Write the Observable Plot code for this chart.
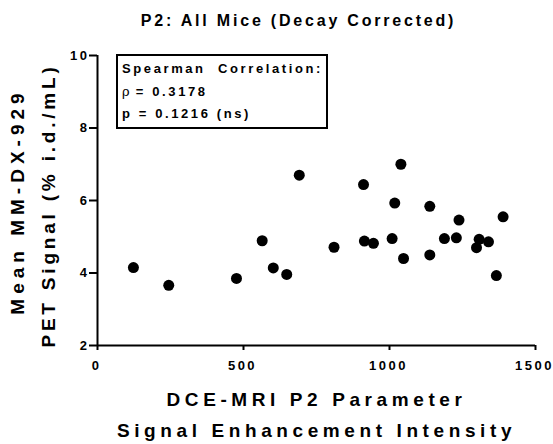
<!DOCTYPE html>
<html>
<head>
<meta charset="utf-8">
<script src="https://cdn.jsdelivr.net/npm/d3@7"></script>
<script src="https://cdn.jsdelivr.net/npm/@observablehq/plot@0.6"></script>
<style>
  html, body { margin: 0; padding: 0; background: white; }
  #wrap { position: relative; width: 553px; height: 444px; font-family: "Liberation Sans", Arial, sans-serif; }
  #wrap svg text { font-weight: bold; }
  #box { position: absolute; left: 116px; top: 54px; width: 208px; height: 71px; border: 2px solid black; background: white; font-weight: bold; font-size: 13px; letter-spacing: 2.6px; color: black; }
  #box div { position: absolute; left: 4px; white-space: pre; }
  .rho { font-weight: normal; font-family: "DejaVu Serif", serif; letter-spacing: 0; }
</style>
</head>
<body>
<div id="wrap"></div>
<script>
const xVals = [123, 244, 476, 564, 602, 648, 691, 810, 911, 914, 945, 1009, 1018, 1039, 1048, 1138, 1138, 1188, 1229, 1238, 1298, 1307, 1339, 1366, 1389];
const yVals = [4.15, 3.66, 3.85, 4.89, 4.14, 3.96, 6.70, 4.71, 6.44, 4.88, 4.82, 4.95, 5.93, 7.00, 4.40, 5.84, 4.50, 4.95, 4.97, 5.46, 4.70, 4.93, 4.86, 3.93, 5.55];
const xTicks = [0, 500, 1000, 1500];
const yTicks = [2, 4, 6, 8, 10];
const titleText = "P2: All Mice (Decay Corrected)";
const xLabel = ["DCE-MRI P2 Parameter", "Signal Enhancement Intensity"];
const yLabel = ["Mean MM-DX-929", "PET Signal (% i.d./mL)"];
const statLines = ["Spearman  Correlation:", "= 0.3178", "p = 0.1216 (ns)"];

const points = xVals.map((x, i) => ({x, y: yVals[i]}));
const font = "Liberation Sans, Arial, sans-serif";

const chart = Plot.plot({
  width: 553,
  height: 444,
  marginLeft: 97,
  marginRight: 18,
  marginTop: 55,
  marginBottom: 99,
  style: {fontFamily: font, fontWeight: "bold", letterSpacing: "2.5px", color: "black", background: "white"},
  x: {domain: [0, 1500], label: null},
  y: {domain: [2, 10], label: null},
  marks: [
    Plot.axisX({ticks: xTicks, tickSize: 5, tickPadding: 10, fontSize: 13, fontWeight: "bold", strokeWidth: 2, tickFormat: d => String(d), label: null}),
    Plot.axisY({ticks: yTicks, tickSize: 8, tickPadding: 0, fontSize: 13, fontWeight: "bold", strokeWidth: 2, tickFormat: d => String(d), label: null}),
    Plot.ruleY([2], {strokeWidth: 2}),
    Plot.ruleX([0], {strokeWidth: 2}),
    Plot.dot(points, {x: "x", y: "y", r: 5.5, fill: "black", stroke: "none"}),
    Plot.text([titleText], {text: d => d, frameAnchor: "top", dx: -18, dy: -30, lineAnchor: "bottom", fontSize: 16, fontWeight: "bold", className: "ttl"}),
    Plot.text([xLabel[0]], {text: d => d, frameAnchor: "bottom", dy: 60, lineAnchor: "bottom", fontSize: 19, fontWeight: "bold", className: "xl"}),
    Plot.text([xLabel[1]], {text: d => d, frameAnchor: "bottom", dy: 91, lineAnchor: "bottom", fontSize: 19, fontWeight: "bold", className: "xl"}),
    Plot.text([yLabel[0]], {text: d => d, frameAnchor: "left", textAnchor: "middle", lineAnchor: "middle", dx: -80, dy: 1, rotate: -90, fontSize: 19, fontWeight: "bold", className: "yl1"}),
    Plot.text([yLabel[1]], {text: d => d, frameAnchor: "left", textAnchor: "middle", lineAnchor: "middle", dx: -49, dy: 5, rotate: -90, fontSize: 19, fontWeight: "bold", className: "yl2"})
  ]
});

document.getElementById("wrap").appendChild(chart);
const svg = d3.select(chart);
svg.selectAll("text").attr("font-weight", "bold");
svg.selectAll('g[aria-label="x-axis tick label"] text').attr("dx", -1);
svg.selectAll(".ttl text").style("letter-spacing", "2.8px");
svg.selectAll(".xl text").style("letter-spacing", "4.6px");
svg.selectAll(".yl1 text").style("letter-spacing", "5px");
svg.selectAll(".yl2 text").style("letter-spacing", "3.8px");

const box = document.createElement("div");
box.id = "box";
box.innerHTML = `<div style="top:5px">${statLines[0]}</div>` +
  `<div style="top:28px"><span class="rho">ρ</span> ${statLines[1]}</div>` +
  `<div style="top:50px">${statLines[2]}</div>`;
document.getElementById("wrap").appendChild(box);
</script>
</body>
</html>
